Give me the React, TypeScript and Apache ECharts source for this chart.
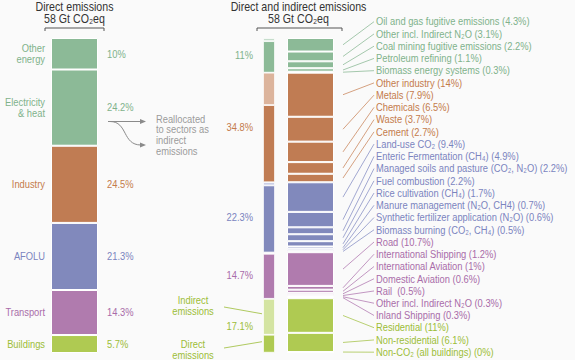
import React, { useEffect, useRef } from "react";
import * as echarts from "echarts";

// ---------- data ----------
const directCategories = ["Other\nenergy", "Electricity\n& heat", "Industry", "AFOLU", "Transport", "Buildings"];
const directShares = [10, 24.2, 24.5, 21.3, 14.3, 5.7];
const directSector = [0, 0, 1, 2, 3, 4];

const sectorNames = ["Energy", "Industry", "AFOLU", "Transport", "Buildings"];
const sectorTotals = [11, 34.8, 22.3, 14.7, 17.1];
const sectorIndirect = [1, 10.3, 1, 0.4, 11.4];
const sectorDirect = [10, 24.5, 21.3, 14.3, 5.7];

const energySubNames = ["Oil and gas fugitive emissions", "Other incl. Indirect N₂O", "Coal mining fugitive emissions", "Petroleum refining", "Biomass energy systems"];
const energySubValues = [4.3, 3.1, 2.2, 1.1, 0.3];
const industrySubNames = ["Other industry", "Metals", "Chemicals", "Waste", "Cement"];
const industrySubValues = [14, 7.9, 6.5, 3.7, 2.7];
const afoluSubNames = ["Land-use CO₂", "Enteric Fermentation (CH₄)", "Managed soils and pasture (CO₂, N₂O)", "Fuel combustion", "Rice cultivation (CH₄)", "Manure management (N₂O, CH4)", "Synthetic fertilizer application (N₂O)", "Biomass burning (CO₂, CH₄)"];
const afoluSubValues = [9.4, 4.9, 2.2, 2.2, 1.7, 0.7, 0.6, 0.5];
const transportSubNames = ["Road", "International Shipping", "International Aviation", "Domestic Aviation", "Rail ", "Other incl. Indirect N₂O", "Inland Shipping"];
const transportSubValues = [10.7, 1.2, 1, 0.6, 0.5, 0.3, 0.3];
const buildingsSubNames = ["Residential", "Non-residential", "Non-CO₂ (all buildings)"];
const buildingsSubValues = [11, 6.1, 0];

// ---------- styles ----------
const sectorColors = ["#8cba97", "#c07c53", "#8189bc", "#b07bae", "#afca52"];
const sectorLightColors = ["#c6ddcc", "#dcb49c", "#c4c8e3", "#dcc2dc", "#d4e4a2"];
const sectorTextColors = ["#7fb28b", "#c47a4c", "#7b84bf", "#a96ca9", "#9cbd37"];
const FONT = '"Liberation Sans", Arial, sans-serif';
const SX = 0.85;
const BAR_TOP = 38;
const BAR_H = 315;
const BARS = [
  { left: 51, width: 47 },
  { left: 263, width: 12 },
  { left: 287, width: 47 },
];
const LABEL_Y0 = 21.7;
const LABEL_STEP = 12.24;

export default function App() {
  const ref = useRef<HTMLDivElement>(null);
  useEffect(() => {
    const chart = echarts.init(ref.current!, null, { renderer: "svg" });

    const subGroups = [
      [energySubNames, energySubValues],
      [industrySubNames, industrySubValues],
      [afoluSubNames, afoluSubValues],
      [transportSubNames, transportSubValues],
      [buildingsSubNames, buildingsSubValues],
    ] as [string[], number[]][];
    const subs: { name: string; value: number; sector: number }[] = [];
    subGroups.forEach(([names, vals], s) => names.forEach((n, i) => subs.push({ name: n, value: vals[i], sector: s })));

    const barBase = (idx: number, stack: string) => ({
      type: "bar" as const,
      xAxisIndex: idx,
      yAxisIndex: idx,
      stack,
      barWidth: "100%",
      silent: true,
    });

    const series: any[] = [];
    directShares.forEach((v, i) => {
      series.push({ ...barBase(0, "a"), data: [v], itemStyle: { color: sectorColors[directSector[i]], borderColor: "#fff", borderWidth: 1 } });
    });
    sectorNames.forEach((_, s) => {
      series.push({ ...barBase(1, "b"), data: [sectorIndirect[s]], itemStyle: { color: sectorLightColors[s], borderColor: "#fff", borderWidth: 0.8 } });
      series.push({ ...barBase(1, "b"), data: [sectorDirect[s]], itemStyle: { color: sectorColors[s], borderColor: "#fff", borderWidth: 0.8 } });
    });
    subs.forEach((d) => {
      series.push({ ...barBase(2, "c"), data: [d.value], itemStyle: { color: sectorColors[d.sector], borderColor: "#fff", borderWidth: 1 } });
    });

    chart.setOption({
      animation: false,
      backgroundColor: "#fafafa",
      grid: BARS.map((b) => ({ left: b.left, width: b.width, top: BAR_TOP, height: BAR_H })),
      xAxis: BARS.map((_, i) => ({ type: "category", gridIndex: i, data: ["x"], show: false })),
      yAxis: BARS.map((_, i) => ({ type: "value", gridIndex: i, min: 0, max: 100, inverse: true, show: false })),
      series,
    });

    const py = (axis: number, v: number) => chart.convertToPixel({ yAxisIndex: axis }, v) as number;
    const txt = (text: string, x: number, y: number, fill: string, align: string, size = 11, extra: any = {}) => ({
      type: "text",
      x,
      y,
      scaleX: SX,
      silent: true,
      z: 10,
      style: { text, fill, fontSize: size, fontFamily: FONT, align, verticalAlign: "middle", lineHeight: 11, ...extra },
    });
    const line = (x1: number, y1: number, x2: number, y2: number, stroke: string, w = 0.8) => ({
      type: "line",
      silent: true,
      z: 10,
      shape: { x1, y1, x2, y2 },
      style: { stroke, lineWidth: w },
    });

    const g: any[] = [];
    // titles
    g.push(txt("Direct emissions", 74.5, 6.5, "#333", "center", 12.5));
    g.push(txt("58 Gt CO₂eq", 74.5, 18, "#333", "center", 12.5));
    g.push({ type: "polyline", silent: true, shape: { points: [[45, 31], [45, 28], [104, 28], [104, 31]] }, style: { stroke: "#555", lineWidth: 1, fill: "none" } });
    g.push(txt("Direct and indirect emissions", 298.5, 6.5, "#333", "center", 12.5));
    g.push(txt("58 Gt CO₂eq", 298.5, 18, "#333", "center", 12.5));
    g.push({ type: "polyline", silent: true, shape: { points: [[257, 31], [257, 28], [342, 28], [342, 31]] }, style: { stroke: "#555", lineWidth: 1, fill: "none" } });

    // left bar labels
    let cum = 0;
    directShares.forEach((v, i) => {
      const y = py(0, cum + v / 2);
      const c = sectorTextColors[directSector[i]];
      g.push(txt(directCategories[i], 45, y, c, "right"));
      g.push(txt(v + "%", 107, y, c, "left"));
      cum += v;
    });

    // reallocation arrows
    const grey = "#8a8a8a";
    g.push(line(108, 121.5, 141, 121.5, grey, 1));
    g.push({ type: "polygon", silent: true, shape: { points: [[146, 121.5], [140, 119], [140, 124]] }, style: { fill: grey } });
    g.push({ type: "bezierCurve", silent: true, shape: { x1: 110, y1: 121.5, cpx1: 128, cpy1: 121.5, cpx2: 122, cpy2: 145, x2: 141, y2: 145 }, style: { stroke: grey, lineWidth: 1, fill: "none" } });
    g.push({ type: "polygon", silent: true, shape: { points: [[146, 145], [140, 142.5], [140, 147.5]] }, style: { fill: grey } });
    g.push(txt("Reallocated\nto sectors as\nindirect\nemissions", 156, 113.5, "#9a9a9a", "left", 11, { verticalAlign: "top", lineHeight: 10.7 }));

    // middle bar totals
    cum = 0;
    sectorTotals.forEach((v, s) => {
      g.push(txt(v + "%", 253, py(1, cum + v / 2), sectorTextColors[s], "right"));
      cum += v;
    });
    // indirect / direct labels for buildings
    const bStart = sectorTotals.slice(0, 4).reduce((a, b) => a + b, 0);
    const yInd = py(1, bStart + sectorIndirect[4] / 2);
    const yDir = py(1, bStart + sectorIndirect[4] + sectorDirect[4] / 2);
    g.push(txt("Indirect\nemissions", 193, 305.5, sectorTextColors[4], "center"));
    g.push(line(224, 307, 262, yInd - 3, sectorTextColors[4]));
    g.push(txt("Direct\nemissions", 193, 349.5, sectorTextColors[4], "center"));
    g.push(line(224, 348, 262, yDir - 2, sectorTextColors[4]));

    // right bar labels with leader lines
    cum = 0;
    subs.forEach((d, i) => {
      const yc = py(2, cum + d.value / 2);
      const yl = LABEL_Y0 + i * LABEL_STEP;
      const c = sectorTextColors[d.sector];
      g.push(line(343, yc, 374, yl, c, 0.7));
      g.push(txt(`${d.name} (${d.value}%)`, 376, yl, c, "left"));
      cum += d.value;
    });

    chart.setOption({ graphic: { elements: g } });
    return () => chart.dispose();
  }, []);
  return <div ref={ref} style={{ position: "fixed", left: 0, top: 0, width: 575, height: 360, background: "#fafafa" }} />;
}
